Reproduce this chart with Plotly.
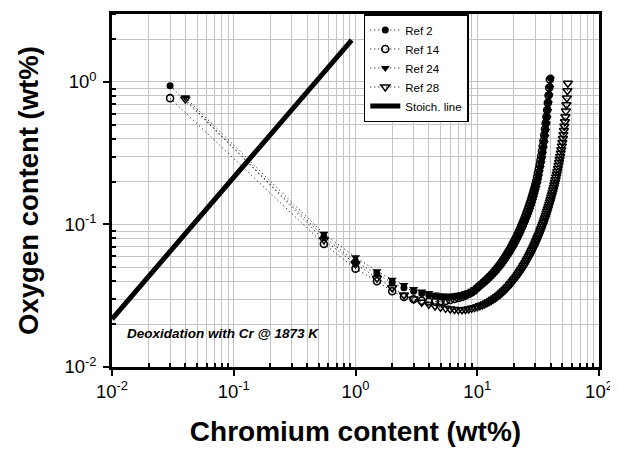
import plotly.graph_objects as go

# ---------------- data ----------------
cr_ref2 = [0.03, 0.55, 1.0, 1.5, 2.0, 2.5, 3.0, 3.5, 4.0, 4.5, 5.0, 5.5, 6.0, 6.5, 7.0, 7.5, 8.0, 8.5, 9.0, 9.5,
           10.0, 10.5, 11.0, 11.5, 12.0, 12.5, 13.0, 13.5, 14.0, 14.5, 15.0, 15.5, 16.0, 16.5, 17.0, 17.5,
           18.0, 18.5, 19.0, 19.5, 20.0, 20.5, 21.0, 21.5, 22.0, 22.5, 23.0, 23.5, 24.0, 24.5, 25.0, 25.5,
           26.0, 26.5, 27.0, 27.5, 28.0, 28.5, 29.0, 29.5, 30.0, 30.5, 31.0, 31.5, 32.0, 32.5, 33.0, 33.5,
           34.0, 34.5, 35.0, 35.5, 36.0, 36.5, 37.0, 37.5, 38.0, 38.5, 39.0, 39.5, 40.0]
o_ref2 = [0.94, 0.082, 0.055, 0.045, 0.039, 0.036, 0.034, 0.0328, 0.032, 0.0314, 0.0311, 0.0310, 0.0310,
          0.0312, 0.0315, 0.0318, 0.0324, 0.0330, 0.0337, 0.0347, 0.0358, 0.03715, 0.0383, 0.0395, 0.04076,
          0.04207, 0.04345, 0.0449, 0.04641, 0.048, 0.04966, 0.0514, 0.05323, 0.05515, 0.05717, 0.05929,
          0.06152, 0.06385, 0.06631, 0.06889, 0.07161, 0.07447, 0.07748, 0.08065, 0.08399, 0.0875, 0.0912,
          0.0951, 0.09922, 0.1035, 0.1081, 0.1130, 0.1181, 0.1235, 0.1292, 0.1353, 0.1419, 0.1490, 0.1567,
          0.1651, 0.1743, 0.1843, 0.1954, 0.2078, 0.2215, 0.2369, 0.2541, 0.2735, 0.2954, 0.3203, 0.3488,
          0.3814, 0.4189, 0.4623, 0.5125, 0.5710, 0.6395, 0.7203, 0.8157, 0.9296, 1.066]

cr_ref14 = [0.03, 0.55, 1.0, 1.5, 2.0, 2.5, 3.0, 3.5, 4.0, 4.5, 5.0, 5.5, 6.0, 6.5, 7.0, 7.5, 8.0, 8.5, 9.0, 9.5,
            10.0, 10.5, 11.0, 11.5, 12.0, 12.5, 13.0, 13.5, 14.0, 14.5, 15.0, 15.5, 16.0, 16.5, 17.0, 17.5,
            18.0, 18.5, 19.0, 19.5, 20.0, 20.5, 21.0, 21.5, 22.0, 22.5, 23.0, 23.5, 24.0, 24.5, 25.0, 25.5,
            26.0, 26.5, 27.0, 27.5, 28.0, 28.5, 29.0, 29.5, 30.0, 30.5, 31.0, 31.5, 32.0, 32.5, 33.0, 33.5,
            34.0, 34.5, 35.0, 35.5, 36.0, 36.5, 37.0, 37.5, 38.0, 38.5, 39.0, 39.5]
o_ref14 = [0.77, 0.073, 0.049, 0.040, 0.034, 0.031, 0.0299, 0.0292, 0.0288, 0.0287, 0.0289, 0.0291, 0.0295,
           0.0300, 0.0305, 0.0310, 0.0318, 0.0325, 0.0333, 0.0344, 0.0358, 0.0373, 0.0385, 0.0399, 0.0412,
           0.0427, 0.0442, 0.0458, 0.0475, 0.0493, 0.0511, 0.0531, 0.0551, 0.0573, 0.0596, 0.0620, 0.0645,
           0.0671, 0.0699, 0.0728, 0.0759, 0.0791, 0.0824, 0.0860, 0.0897, 0.0936, 0.0978, 0.1021, 0.1068,
           0.1116, 0.1167, 0.1223, 0.1280, 0.1341, 0.1406, 0.1475, 0.1550, 0.1630, 0.1717, 0.1813, 0.1917,
           0.2029, 0.2153, 0.2292, 0.2445, 0.2618, 0.2810, 0.3028, 0.3273, 0.3552, 0.3872, 0.4237, 0.4658,
           0.5145, 0.5709, 0.6367, 0.7137, 0.8046, 0.9120, 1.040]

cr_ref24 = [0.04, 0.55, 1.0, 1.5, 2.0, 2.5, 3.0, 3.5, 4.0, 4.5, 5.0, 5.5, 6.0, 6.5, 7.0, 7.5, 8.0, 8.5, 9.0, 9.5,
            10.0, 10.5, 11.0, 11.5, 12.0, 12.5, 13.0, 13.5, 14.0, 14.5, 15.0, 15.5, 16.0, 16.5, 17.0, 17.5,
            18.0, 18.5, 19.0, 19.5, 20.0, 20.5, 21.0, 21.5, 22.0, 22.5, 23.0, 23.5, 24.0, 24.5, 25.0, 25.5,
            26.0, 26.5, 27.0, 27.5, 28.0, 28.5, 29.0, 29.5, 30.0, 30.5, 31.0, 31.5, 32.0, 32.5, 33.0, 33.5,
            34.0, 34.5, 35.0, 35.5, 36.0, 36.5, 37.0, 37.5, 38.0, 38.5, 39.0, 39.5, 40.0]
o_ref24 = [0.78, 0.086, 0.059, 0.047, 0.041, 0.0376, 0.0352, 0.0339, 0.0330, 0.0323, 0.0318, 0.0316, 0.0316,
           0.0318, 0.0321, 0.0324, 0.0330, 0.0336, 0.0343, 0.0352, 0.0363, 0.03752, 0.03868, 0.0399, 0.04117,
           0.04249, 0.04388, 0.04535, 0.04687, 0.04848, 0.05016, 0.05191, 0.05376, 0.0557, 0.05774, 0.05988,
           0.06214, 0.06449, 0.06697, 0.06958, 0.07233, 0.07373, 0.07671, 0.07984, 0.08315, 0.08663, 0.09029,
           0.09415, 0.09823, 0.1025, 0.1070, 0.1107, 0.1157, 0.1210, 0.1266, 0.1326, 0.1391, 0.1460, 0.1536,
           0.1618, 0.1708, 0.1806, 0.1915, 0.2036, 0.2171, 0.2322, 0.2490, 0.2680, 0.2895, 0.3139, 0.3418,
           0.3738, 0.4105, 0.4531, 0.5023, 0.5596, 0.6267, 0.7059, 0.7994, 0.9110, 1.045]

cr_ref28 = [0.04, 0.55, 1.0, 1.5, 2.0, 2.5, 3.0, 3.5, 4.0, 4.5, 5.0, 5.5, 6.0, 6.5, 7.0, 7.5, 8.0, 8.5, 9.0, 9.5,
            10.0, 10.5, 11.0, 11.5, 12.0, 12.5, 13.0, 13.5, 14.0, 14.5, 15.0, 15.5, 16.0, 16.5, 17.0, 17.5,
            18.0, 18.5, 19.0, 19.5, 20.0, 20.5, 21.0, 21.5, 22.0, 22.5, 23.0, 23.5, 24.0, 24.5, 25.0, 25.5,
            26.0, 26.5, 27.0, 27.5, 28.0, 28.5, 29.0, 29.5, 30.0, 30.5, 31.0, 31.5, 32.0, 32.5, 33.0, 33.5,
            34.0, 34.5, 35.0, 35.5, 36.0, 36.5, 37.0, 37.5, 38.0, 38.5, 39.0, 39.5, 40.0, 40.5, 41.0, 41.5,
            42.0, 42.5, 43.0, 43.5, 44.0, 44.5, 45.0, 45.5, 46.0, 46.5, 47.0, 47.5, 48.0, 48.5, 49.0, 49.5,
            50.0, 50.5, 51.0, 51.5, 52.0, 52.5, 53.0, 53.5, 54.0, 54.5, 55.0, 55.5]
o_ref28 = [0.76, 0.078, 0.053, 0.042, 0.036, 0.032, 0.030, 0.0285, 0.0275, 0.0268, 0.0262, 0.0258, 0.0255,
           0.0253, 0.0252, 0.0252, 0.0253, 0.0255, 0.0258, 0.0261, 0.0265, 0.02685, 0.02726, 0.0277, 0.02818,
           0.02871, 0.02927, 0.02985, 0.03047, 0.03112, 0.03181, 0.03253, 0.0333, 0.0341, 0.03495, 0.03585,
           0.03679, 0.03776, 0.03876, 0.03981, 0.0409, 0.04202, 0.04319, 0.04441, 0.04567, 0.04699, 0.04835,
           0.04977, 0.05125, 0.05278, 0.05437, 0.05602, 0.05774, 0.05952, 0.06138, 0.0633, 0.0653, 0.06737,
           0.06953, 0.07178, 0.07412, 0.07655, 0.07907, 0.0817, 0.08443, 0.0873, 0.09028, 0.09339, 0.09665,
           0.1000, 0.1036, 0.1073, 0.1112, 0.1152, 0.1195, 0.1239, 0.1285, 0.1334, 0.1384, 0.1437, 0.1493,
           0.1551, 0.1612, 0.1676, 0.1743, 0.1815, 0.1891, 0.1972, 0.2059, 0.2151, 0.2250, 0.2356, 0.2469,
           0.2589, 0.2718, 0.2856, 0.3004, 0.3168, 0.3348, 0.3546, 0.3764, 0.4006, 0.4272, 0.4567, 0.4894,
           0.5257, 0.5697, 0.6247, 0.6914, 0.7722, 0.8684, 0.9788]

cr_stoich = [0.01, 0.93]
o_stoich = [0.0217, 1.97]

tick_vals = [0.01, 0.1, 1, 10, 100]
x_tick_text = ["10<sup>-2</sup>", "10<sup>-1</sup>", "10<sup>0</sup>", "10<sup>1</sup>", "10<sup>2</sup>"]
y_tick_vals = [0.01, 0.1, 1]
y_tick_text = ["10<sup>-2</sup>", "10<sup>-1</sup>", "10<sup>0</sup>"]

x_title = "Chromium content (wt%)"
y_title = "Oxygen content (wt%)"
note_text = "Deoxidation with Cr @ 1873 K"

# ---------------- figure ----------------
FONT = "Liberation Sans, Arial, sans-serif"
dotline = dict(color="black", width=1, dash="1px,3px")

fig = go.Figure()
fig.add_trace(go.Scatter(x=cr_ref2, y=o_ref2, name="Ref 2", mode="lines+markers", line=dotline,
                         marker=dict(symbol="circle", size=7, color="black")))
fig.add_trace(go.Scatter(x=cr_ref14, y=o_ref14, name="Ref 14", mode="lines+markers", line=dotline,
                         marker=dict(symbol="circle-open", size=7, color="black", line=dict(width=1.6))))
fig.add_trace(go.Scatter(x=cr_ref24, y=o_ref24, name="Ref 24", mode="lines+markers", line=dotline,
                         marker=dict(symbol="triangle-down", size=8, color="black")))
fig.add_trace(go.Scatter(x=cr_ref28, y=o_ref28, name="Ref 28", mode="lines+markers", line=dotline,
                         marker=dict(symbol="triangle-down-open", size=8, color="black", line=dict(width=1.5))))
fig.add_trace(go.Scatter(x=cr_stoich, y=o_stoich, name="Stoich. line", mode="lines",
                         line=dict(color="black", width=5)))

minor_x = [m * 10 ** e for e in range(-2, 2) for m in range(2, 10)]
minor_y = [m * 10 ** e for e in range(-2, 1) for m in range(2, 10)]

axis_common = dict(
    type="log", showline=True, linecolor="black", linewidth=2.5, mirror=True,
    showgrid=True, gridcolor="#c4c4c4", gridwidth=1.3,
    ticks="outside", ticklen=6, tickwidth=2, tickcolor="black",
    tickfont=dict(family=FONT, size=18.5, color="black"),
    zeroline=False, automargin=False,
)

fig.update_xaxes(**axis_common, range=[-2, 2], tickmode="array", tickvals=tick_vals, ticktext=x_tick_text,
                 minor=dict(tickmode="array", tickvals=minor_x, ticks="inside", ticklen=4, tickwidth=1.5,
                            tickcolor="black", showgrid=True, gridcolor="#c4c4c4", gridwidth=1.3),
                 title=dict(text="<b>" + x_title + "</b>", font=dict(family=FONT, size=28, color="black"),
                            standoff=21))
fig.update_yaxes(**axis_common, range=[-2, 0.4771], tickmode="array", tickvals=y_tick_vals, ticktext=y_tick_text,
                 ticklabelstandoff=3,
                 minor=dict(tickmode="array", tickvals=minor_y, ticks="inside", ticklen=4, tickwidth=1.5,
                            tickcolor="black", showgrid=True, gridcolor="#c4c4c4", gridwidth=1.3),
                 title=dict(text="<b>" + y_title + "</b>", font=dict(family=FONT, size=27.5, color="black"),
                            standoff=18))

fig.add_annotation(text="<b><i>" + note_text + "</i></b>", xref="paper", yref="paper",
                   x=0.027, y=0.096, xanchor="left", yanchor="middle", showarrow=False,
                   font=dict(family=FONT, size=13.5, color="black"))

# page body adds an 8px offset, so the figure is 8px smaller and margins compensate
fig.update_layout(
    width=610, height=442,
    margin=dict(l=104, r=19, t=6, b=83, autoexpand=False),
    paper_bgcolor="white", plot_bgcolor="white",
    font=dict(family=FONT, color="black"),
    showlegend=True,
    legend=dict(x=0.517, y=1.0, xanchor="left", yanchor="top", bgcolor="white",
                bordercolor="black", borderwidth=1.5, font=dict(family=FONT, size=11.5, color="black"),
                itemwidth=30, tracegroupgap=0),
)

fig.write_html("out.html")
